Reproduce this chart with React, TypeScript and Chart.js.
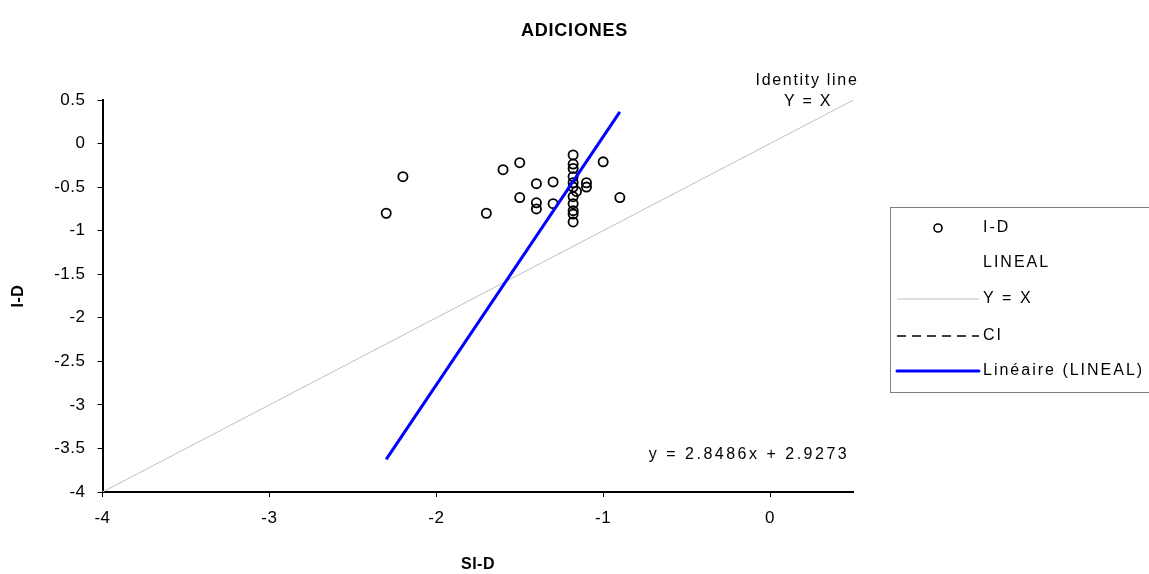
import React, { useEffect, useRef } from "react";
import { Chart, registerables } from "chart.js";

Chart.register(...registerables);

const TITLE = "ADICIONES";
const X_LABEL = "SI-D";
const Y_LABEL = "I-D";

const SI_D = [
  -2.3, -2.2, -1.7, -1.6, -1.5, -1.5, -1.4, -1.4, -1.4, -1.3, -1.3,
  -1.18, -1.18, -1.18, -1.18, -1.18, -1.18, -1.18, -1.18, -1.18, -1.18, -1.18,
  -1.16, -1.1, -1.1, -1.0, -0.9,
];
const I_D = [
  -0.8, -0.38, -0.8, -0.3, -0.22, -0.62, -0.46, -0.68, -0.75, -0.44, -0.69,
  -0.13, -0.235, -0.285, -0.38, -0.45, -0.61, -0.69, -0.77, -0.81, -0.9, -0.5,
  -0.55, -0.45, -0.5, -0.21, -0.62,
];

const IDENTITY_X = [-4, 0.5];
const IDENTITY_Y = [-4, 0.5];

const TREND_X = [-2.3, -0.9];
const TREND_Y = [-3.6245, 0.3636];

const X_TICKS = [-4, -3, -2, -1, 0];
const Y_TICKS = [-4, -3.5, -3, -2.5, -2, -1.5, -1, -0.5, 0, 0.5];

const LEGEND_LABELS = ["I-D", "LINEAL", "Y = X", "CI", "Linéaire (LINEAL)"];
const EQUATION = "y = 2.8486x + 2.9273";
const IDENTITY_NOTE = ["Identity line", "Y = X"];

const FONT = "'Liberation Sans', Arial, sans-serif";
const SPACING = "0.5px";
const W = 1149;
const H = 574;

const textPlugin = {
  id: "texts",
  beforeDraw(chart: any) {
    const ctx = chart.ctx;
    ctx.save();
    ctx.fillStyle = "#ffffff";
    ctx.fillRect(0, 0, W, H);
    ctx.restore();
    (ctx as any).letterSpacing = SPACING;
  },
  afterDraw(chart: any) {
    const ctx = chart.ctx as CanvasRenderingContext2D;
    const area = chart.chartArea;
    ctx.save();
    (ctx as any).letterSpacing = SPACING;
    ctx.fillStyle = "#000";
    ctx.textAlign = "center";
    ctx.textBaseline = "middle";
    // title
    ctx.font = `bold 18px ${FONT}`;
    (ctx as any).letterSpacing = "0.8px";
    ctx.fillText(TITLE, W / 2, 31);
    // axis titles
    ctx.font = `bold 16px ${FONT}`;
    (ctx as any).letterSpacing = SPACING;
    ctx.fillText(X_LABEL, (area.left + area.right) / 2, 565);
    ctx.save();
    ctx.translate(19, (area.top + area.bottom) / 2);
    ctx.rotate(-Math.PI / 2);
    ctx.fillText(Y_LABEL, 0, 0);
    ctx.restore();
    // annotations
    ctx.font = `16px ${FONT}`;
    (ctx as any).letterSpacing = "1.7px";
    ctx.fillText(IDENTITY_NOTE[0], 807, 81);
    ctx.fillText(IDENTITY_NOTE[1], 808, 102);
    (ctx as any).letterSpacing = "2.5px";
    ctx.fillText(EQUATION, 749, 455);

    // legend
    const lx = 890.5;
    const ly = 207.5;
    ctx.strokeStyle = "#7f7f7f";
    ctx.lineWidth = 1;
    ctx.strokeRect(lx, ly, 320, 185);
    const rows = [228, 263, 299, 336, 371];
    const sx0 = 897;
    const sx1 = 979;
    ctx.textAlign = "left";
    ctx.font = `16px ${FONT}`;
    (ctx as any).letterSpacing = "2px";
    LEGEND_LABELS.forEach((lab, i) => {
      const y = rows[i];
      ctx.fillStyle = "#000";
      ctx.fillText(lab, 983, y);
      if (i === 0) {
        ctx.beginPath();
        ctx.arc(938, y, 4, 0, Math.PI * 2);
        ctx.strokeStyle = "#000";
        ctx.lineWidth = 1.6;
        ctx.stroke();
      } else if (i === 2) {
        ctx.beginPath();
        ctx.moveTo(sx0, y);
        ctx.lineTo(sx1, y);
        ctx.strokeStyle = "#c0c0c0";
        ctx.lineWidth = 1;
        ctx.stroke();
      } else if (i === 3) {
        ctx.beginPath();
        ctx.setLineDash([9, 6]);
        ctx.moveTo(sx0, y);
        ctx.lineTo(sx1, y);
        ctx.strokeStyle = "#000";
        ctx.lineWidth = 1.5;
        ctx.stroke();
        ctx.setLineDash([]);
      } else if (i === 4) {
        ctx.beginPath();
        ctx.moveTo(sx0, y);
        ctx.lineTo(sx1, y);
        ctx.strokeStyle = "#0000ff";
        ctx.lineWidth = 3;
        ctx.lineCap = "round";
        ctx.stroke();
      }
    });
    ctx.restore();
  },
};

export default function App() {
  const ref = useRef<HTMLCanvasElement>(null);
  useEffect(() => {
    if (!ref.current) return;
    const tickFont = { family: FONT, size: 17 };
    const chart = new Chart(ref.current, {
      type: "scatter",
      data: {
        datasets: [
          {
            label: LEGEND_LABELS[0],
            data: SI_D.map((x, i) => ({ x, y: I_D[i] })),
            pointStyle: "circle",
            pointRadius: 4.6,
            borderColor: "#000",
            backgroundColor: "rgba(0,0,0,0)",
            borderWidth: 1.8,
            order: 1,
          },
          {
            label: LEGEND_LABELS[1],
            data: [],
            order: 3,
          },
          {
            label: LEGEND_LABELS[2],
            data: IDENTITY_X.map((x, i) => ({ x, y: IDENTITY_Y[i] })),
            showLine: true,
            pointRadius: 0,
            borderColor: "#c0c0c0",
            borderWidth: 1,
            order: 2,
          },
          {
            label: LEGEND_LABELS[3],
            data: [],
            showLine: true,
            borderDash: [9, 6],
            borderColor: "#000",
            order: 4,
          },
          {
            label: LEGEND_LABELS[4],
            data: TREND_X.map((x, i) => ({ x, y: TREND_Y[i] })),
            showLine: true,
            pointRadius: 0,
            borderColor: "#0000ff",
            borderWidth: 3,
            order: 0,
          },
        ],
      },
      options: {
        responsive: false,
        animation: false,
        events: [],
        layout: { padding: { left: 0, top: 100, right: W - 853.5, bottom: 0 } },
        plugins: {
          legend: { display: false },
          title: { display: false },
          tooltip: { enabled: false },
        },
        scales: {
          x: {
            type: "linear",
            min: -4,
            max: 0.5,
            afterBuildTicks: (s: any) => {
              s.ticks = X_TICKS.map((v) => ({ value: v }));
            },
            afterFit: (s: any) => {
              s.height = H - 492;
            },
            ticks: {
              font: tickFont,
              color: "#000",
              padding: 11,
              maxRotation: 0,
              callback: (v: any) => String(v),
            },
            grid: { drawOnChartArea: false, color: "#000", tickLength: 5, lineWidth: 1 },
            border: { color: "#000", width: 2 },
          },
          y: {
            type: "linear",
            min: -4,
            max: 0.5,
            afterBuildTicks: (s: any) => {
              s.ticks = Y_TICKS.map((v) => ({ value: v }));
            },
            afterFit: (s: any) => {
              s.width = 102.5;
            },
            ticks: {
              font: tickFont,
              color: "#000",
              padding: 12,
              callback: (v: any) => String(v),
            },
            grid: { drawOnChartArea: false, color: "#000", tickLength: 5, lineWidth: 1 },
            border: { color: "#000", width: 2 },
          },
        },
      },
      plugins: [textPlugin],
    });
    return () => chart.destroy();
  }, []);
  return (
    <div style={{ position: "absolute", left: 0, top: 0, width: W, height: H }}>
      <canvas ref={ref} width={W} height={H} style={{ display: "block" }} />
    </div>
  );
}
